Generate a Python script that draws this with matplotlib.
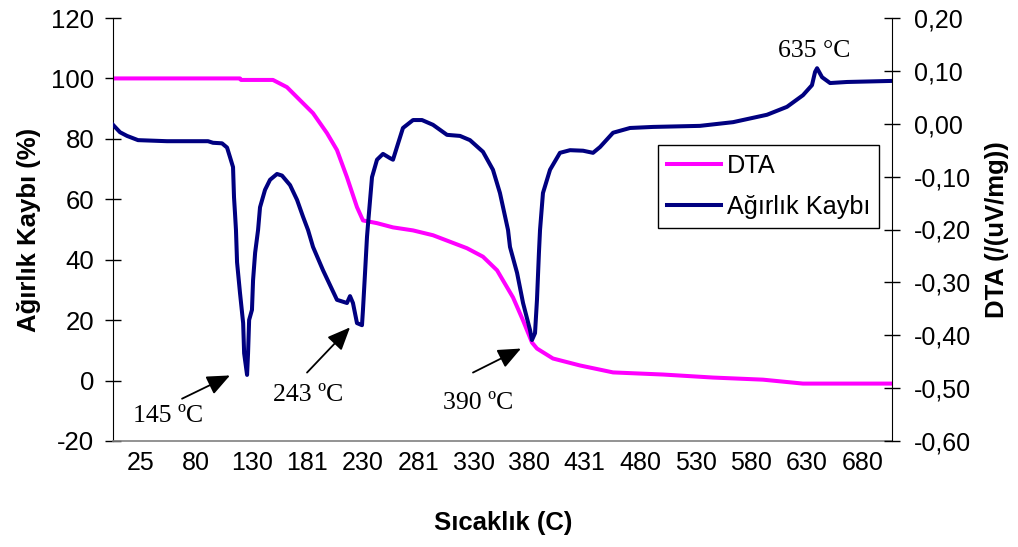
import numpy as np
import matplotlib
matplotlib.use("Agg")
import matplotlib.pyplot as plt
from matplotlib.ticker import FixedLocator, FixedFormatter

# ---------------- data ----------------
tick_temps = [25, 80, 130, 181, 230, 281, 330, 380, 431, 480, 530, 580, 630, 680]

left_ticks = [-20, 0, 20, 40, 60, 80, 100, 120]
left_labels = ["-20", "0", "20", "40", "60", "80", "100", "120"]
right_ticks = [-0.6, -0.5, -0.4, -0.3, -0.2, -0.1, 0.0, 0.1, 0.2]
right_labels = ["-0,60", "-0,50", "-0,40", "-0,30", "-0,20", "-0,10", "0,00", "0,10", "0,20"]

# magenta curve (left axis, %)
pink_T = [25, 144.7, 145.6, 175.0, 187.6, 199.1, 210.6, 222.9, 231.8, 241.0, 250.2,
          255.7, 268.6, 283.2, 300.9, 318.5, 348.9, 363.3, 376.0, 390.6, 399.8,
          408.0, 412.6, 427.3, 451.3, 480.5, 525.5, 570.5, 615.6, 651.6, 731.5]
pink_v = [100, 100, 99.5, 99.5, 97.1, 92.8, 88.5, 81.9, 76.3, 67.3, 57.4,
          53.0, 52.1, 50.7, 49.7, 48.1, 43.8, 41.0, 36.5, 27.5, 19.9,
          12.6, 10.6, 7.3, 5.0, 2.7, 2.0, 1.0, 0.3, -1.0, -1.0]

# navy curve (right axis, uV/mg)
navy_T = [25, 31.9, 38.9, 49.8, 78.5, 115.6, 120.1, 128.2, 132.8, 135.5, 138.3,
          139.2, 140.1, 141.0, 142.0, 144.7, 147.6, 148.5, 151.2, 152.1, 153.1,
          155.7, 156.7, 158.6, 161.3, 163.1, 167.7, 172.3, 178.7, 183.2, 190.3,
          196.5, 201.8, 206.2, 210.6, 219.4, 231.8, 241.0, 243.8, 246.5, 250.2,
          254.8, 255.7, 257.6, 259.4, 260.3, 264.0, 268.6, 274.1, 280.5, 283.2,
          286.7, 292.0, 300.9, 308.8, 318.5, 330.9, 342.6, 351.6, 363.3, 372.3,
          378.6, 386.0, 387.8, 394.3, 399.8, 406.2, 408.0, 410.8, 412.6, 414.4,
          415.4, 418.1, 424.6, 433.6, 442.5, 454.0, 462.8, 469.0, 480.5, 495.8,
          516.5, 558.8, 588.6, 619.2, 637.2, 651.6, 659.7, 662.5, 664.3, 668.8,
          676.0, 691.3, 731.5]
navy_v = [-0.002, -0.016, -0.023, -0.031, -0.033, -0.033, -0.036, -0.037, -0.045, -0.063, -0.082,
          -0.139, -0.169, -0.201, -0.262, -0.320, -0.377, -0.434, -0.475, -0.434, -0.371,
          -0.352, -0.296, -0.244, -0.201, -0.158, -0.125, -0.106, -0.095, -0.098, -0.116,
          -0.144, -0.176, -0.201, -0.233, -0.277, -0.333, -0.339, -0.326, -0.339, -0.377,
          -0.381, -0.352, -0.282, -0.214, -0.191, -0.101, -0.068, -0.057, -0.065, -0.068,
          -0.044, -0.008, 0.007, 0.007, -0.002, -0.021, -0.023, -0.031, -0.053, -0.087,
          -0.131, -0.201, -0.233, -0.282, -0.339, -0.390, -0.409, -0.396, -0.333, -0.244,
          -0.201, -0.131, -0.087, -0.055, -0.050, -0.051, -0.055, -0.044, -0.017, -0.008,
          -0.006, -0.004, 0.003, 0.017, 0.032, 0.054, 0.073, 0.098, 0.105, 0.088,
          0.077, 0.079, 0.081]

# annotations: text, text position (T, left-axis value), arrow tail, arrow tip
ann_texts = ["145 ºC", "243 ºC", "390 ºC"]
ann_text_xy = [(44.8, -13.6), (175.0, -6.6), (327.4, -9.3)]
ann_tail = [(92.2, -6.0), (205.3, 2.65), (354.3, 2.65)]
ann_tip = [(135.5, 1.7), (243.8, 17.6), (397.9, 10.6)]
peak_text = "635 °C"
peak_xy = (629.1, 107.1)

# --------- category-like x scale (equal spacing between labels) ---------
anchor_T = np.array([-30] + tick_temps + [730, 780], dtype=float)
anchor_P = np.arange(-1, len(tick_temps) + 2, dtype=float)


def fwd(t):
    return np.interp(t, anchor_T, anchor_P)


def inv(p):
    return np.interp(p, anchor_P, anchor_T)


tick_centers = [inv(i + 0.5) for i in range(len(tick_temps))]

# ---------------- figure ----------------
W, H = 1018, 547
fig = plt.figure(figsize=(W / 100, H / 100), dpi=100)
L, R, T, B = 113, 892, 18, 441
ax1 = fig.add_axes([L / W, 1 - B / H, (R - L) / W, (B - T) / H])
ax2 = ax1.twinx()

ax1.set_xscale("function", functions=(fwd, inv))
ax1.set_xlim(25, inv((R - L) / 55.5))

sans = ["Liberation Sans", "DejaVu Sans"]
serif = ["Liberation Serif", "DejaVu Serif"]

l1, = ax1.plot(pink_T, pink_v, color="#FF00FF", lw=2.9, solid_joinstyle="round", label="DTA")
l2, = ax2.plot(navy_T, navy_v, color="#000080", lw=2.9, solid_joinstyle="round", label="Ağırlık Kaybı")

ax1.set_ylim(-20, 120)
ax2.set_ylim(-0.6, 0.2)

ax1.yaxis.set_major_locator(FixedLocator(left_ticks))
ax1.yaxis.set_major_formatter(FixedFormatter(left_labels))
ax2.yaxis.set_major_locator(FixedLocator(right_ticks))
ax2.yaxis.set_major_formatter(FixedFormatter(right_labels))
ax1.xaxis.set_major_locator(FixedLocator(tick_centers))
ax1.xaxis.set_major_formatter(FixedFormatter([str(t) for t in tick_temps]))
ax1.xaxis.set_minor_locator(FixedLocator([]))

ax1.tick_params(axis="y", direction="inout", length=11, width=1, pad=8,
                labelsize=18.5, colors="black")
ax2.tick_params(axis="y", direction="inout", length=11, width=1, pad=10.5,
                labelsize=18, colors="black")
ax1.tick_params(axis="x", length=0, pad=7.5, labelsize=18)
for lab in ax1.get_xticklabels() + ax1.get_yticklabels() + ax2.get_yticklabels():
    lab.set_fontfamily(sans)

for s in ["top", "right"]:
    ax1.spines[s].set_visible(False)
for s in ["top", "left", "bottom"]:
    ax2.spines[s].set_visible(False)
ax1.spines["bottom"].set_color("#808080")
ax1.spines["bottom"].set_linewidth(1.2)
ax1.spines["left"].set_color("black")
ax2.spines["right"].set_color("black")

ax1.set_ylabel("Ağırlık Kaybı (%)", fontsize=18.5, fontweight="bold", family=sans)
ax1.yaxis.set_label_coords((41 - L) / (R - L), 0.5)
ax2.set_ylabel("DTA (/(uV/mg))", fontsize=18.5, fontweight="bold", family=sans)
ax2.yaxis.set_label_coords((985 - L) / (R - L), 0.5)
ax1.set_xlabel("Sıcaklık (C)", fontsize=18.5, fontweight="bold", family=sans)
ax1.xaxis.set_label_coords((503 - L) / (R - L), (B - 511) / (B - T))

# annotations
for txt, (tx, ty), tail, tip in zip(ann_texts, ann_text_xy, ann_tail, ann_tip):
    ax2.text(tx, ty, txt, transform=ax1.transData, fontsize=18.5, family=serif,
             ha="left", va="baseline")
    ax2.annotate("", xy=tip, xytext=tail, xycoords=ax1.transData, textcoords=ax1.transData,
                 arrowprops=dict(arrowstyle="-|>,head_length=0.7,head_width=0.3",
                                 color="black", lw=1.3, shrinkA=0, shrinkB=0,
                                 mutation_scale=20))
ax2.text(peak_xy[0], peak_xy[1], peak_text, transform=ax1.transData, fontsize=18.5,
         family=serif, ha="left", va="baseline")

leg = ax2.legend([l1, l2], ["DTA", "Ağırlık Kaybı"], loc="upper left",
                 bbox_to_anchor=(658 / W, 1 - 145 / H), bbox_transform=fig.transFigure,
                 borderaxespad=0, fancybox=False, framealpha=1, edgecolor="black",
                 prop=dict(family=sans, size=18.2), handlelength=2.15,
                 handletextpad=0.25, borderpad=0.34, labelspacing=0.7)
leg.get_frame().set_linewidth(1.0)

fig.savefig("out.png", dpi=100)
